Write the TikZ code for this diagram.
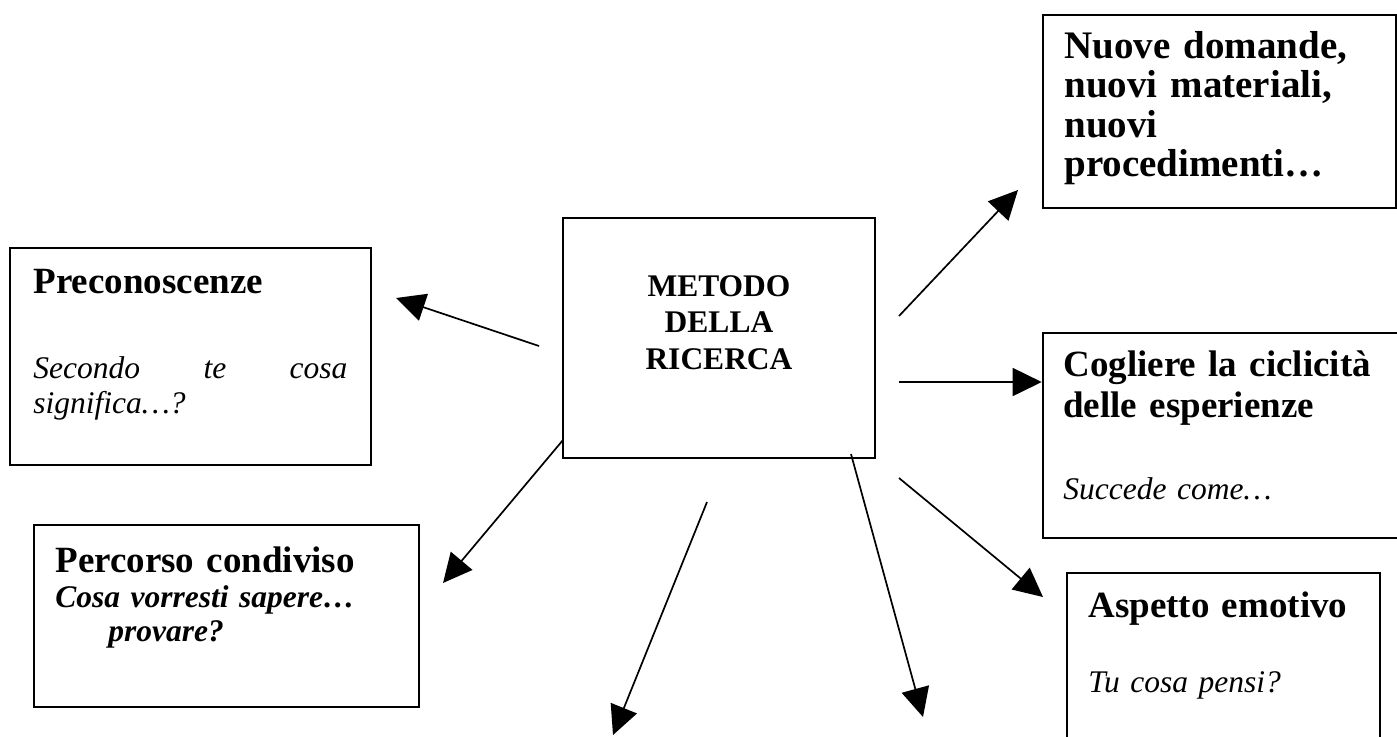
\documentclass[tikz,border=0pt]{standalone}
\usepackage{fontspec}
\setmainfont{Liberation Serif}
\usetikzlibrary{arrows.meta}

\begin{document}
\begin{tikzpicture}[
	x=0.5pt, y=-0.5pt,
	>={Triangle[length=14.5pt, width=14pt]},
	% Style for the boxes
	box/.style={rectangle, draw, line width=1.3pt, inner sep=0pt},
	% Style for the bold box titles
	title/.style={anchor=base west, inner sep=0pt, align=left, text width=175pt,
		font=\bfseries\fontsize{18.5}{20.5}\selectfont},
	% Style for the italic questions
	quest/.style={anchor=base west, inner sep=0pt, align=left, text width=175pt,
		font=\itshape\fontsize{15.75}{17.5}\selectfont},
	% Style for the arrows
	link/.style={->, line width=0.85pt}
	]
	
	\useasboundingbox (0,0) rectangle (1397,736);
	\clip (0,0) rectangle (1397,736);
	
	% 1. Central box
	\node[box, minimum width=156pt, minimum height=120pt] (metodo) at (719,338) {};
	\node[anchor=base, inner sep=0pt, align=center, text width=150pt,
		font=\bfseries\fontsize{15.75}{18.25}\selectfont] (metodoT) at (719,296) {METODO\\DELLA\\RICERCA};
	
	% 2. Left boxes
	\node[box, minimum width=180.5pt, minimum height=108.5pt] (pre) at (190.5,356.5) {};
	\node[title] (preT) at (33,293) {Preconoscenze};
	\node[quest] (preQ) at (33,378) {\hbox to 157pt{Secondo\hfill te\hfill cosa}\\significa…?};
	
	\node[box, minimum width=192.5pt, minimum height=91pt] (perc) at (226.5,616) {};
	\node[title] (percT) at (55,572) {Percorso condiviso};
	\node[quest, font=\bfseries\itshape\fontsize{15.75}{17.5}\selectfont] (percQ) at (55,607) {Cosa vorresti sapere…};
	\node[quest, font=\bfseries\itshape\fontsize{15.75}{17.5}\selectfont] (percQb) at (108,641) {provare?};
	
	% 3. Right boxes
	\node[box, minimum width=176.5pt, minimum height=96.5pt] (nuove) at (1219.5,111.5) {};
	\node[title, font=\bfseries\fontsize{19.5}{19.75}\selectfont] (nuoveT) at (1064,58)
		{Nuove domande,\\nuovi materiali,\\nuovi\\procedimenti…};
	
	\node[box, minimum width=183.5pt, minimum height=102.5pt] (cicl) at (1226.5,435.5) {};
	\node[title] (ciclT) at (1063,376) {Cogliere la ciclicità\\delle esperienze};
	\node[quest] (ciclQ) at (1063,499) {Succede come…};
	
	\node[box, minimum width=156.5pt, minimum height=93.5pt] (emo) at (1223.5,666.5) {};
	\node[title] (emoT) at (1088,617) {Aspetto emotivo};
	\node[quest] (emoQ) at (1088,692) {Tu cosa pensi?};
	
	% 4. Arrow ends
	\coordinate (sPre) at (539,346);   \coordinate (tPre) at (396,298);
	\coordinate (sPerc) at (563,440);  \coordinate (tPerc) at (443,583);
	\coordinate (sDownL) at (707,502); \coordinate (tDownL) at (613,735);
	\coordinate (sDownR) at (851,454); \coordinate (tDownR) at (923,717);
	\coordinate (sEmo) at (899,478);   \coordinate (tEmo) at (1043,597);
	\coordinate (sCicl) at (899,382);
	\coordinate (sNuove) at (899,316); \coordinate (tNuove) at (1018,190);
	
	% 5. Arrows
	\draw[link] (sPre) -- (tPre);
	\draw[link] (sPerc) -- (tPerc);
	\draw[link] (sDownL) -- (tDownL);
	\draw[link] (sDownR) -- (tDownR);
	\draw[link] (sEmo) -- (tEmo);
	\draw[link] (sCicl) -- (sCicl -| cicl.west);
	\draw[link] (sNuove) -- (tNuove);
	
\end{tikzpicture}
\end{document}
